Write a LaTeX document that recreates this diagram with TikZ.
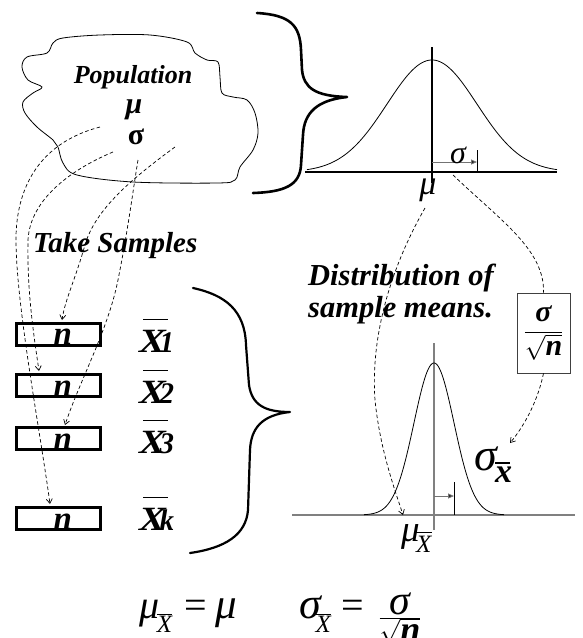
\documentclass[tikz,border=0pt]{standalone}
\usepackage{fontspec}
\setmainfont{Liberation Serif}
\usetikzlibrary{arrows.meta}
\newcommand{\barX}[1]{\scalebox{1.18}[1]{\rlap{\kern0.1em\rule[0.93em]{0.62em}{0.05em}}X\kern-0.16em\scalebox{0.72}[0.88]{#1}}}
\newcommand{\lown}{\raisebox{-3pt}[\height][0pt]{n}}
\begin{document}
\begin{tikzpicture}[x=1pt,y=-1pt,
  bi/.style={font=\fontsize{#1}{#1}\selectfont\bfseries\itshape, inner sep=0pt},
  it/.style={font=\fontsize{#1}{#1}\selectfont\itshape, inner sep=0pt},
  bu/.style={font=\fontsize{#1}{#1}\selectfont\bfseries, inner sep=0pt},
  dsh/.style={line width=0.7pt, dash pattern=on 3.5pt off 2.5pt},
  dar/.style={dsh, -{Straight Barb[length=4.5pt,width=6pt]}},
  bracestyle/.style={line width=#1, line cap=round, line join=round},
  sbox/.style={draw, line width=3pt, minimum width=84pt, minimum height=22pt, inner sep=0pt, font=\fontsize{33}{33}\selectfont\bfseries\itshape},
  xlab/.style={anchor=base west, inner sep=0pt, font=\fontsize{34}{34}\selectfont\bfseries\itshape},
  curve/.style={line width=0.8pt},
  axis/.style={line width=1.1pt},
  gaxis/.style={line width=1.1pt, draw=black!50},
  sigarr/.style={line width=1pt, draw=black!55, -{Triangle[length=6pt,width=5pt,fill=black]}}
]
\useasboundingbox (0,0) rectangle (582,638);

% population blob
\draw[line width=0.8pt] plot[smooth cycle, tension=0.55] coordinates {
 (53,43) (63,38) (100,35) (150,35) (187,42) (195,53) (207,60) (218,62) (220,77) (222,93)
 (233,97) (247,100) (255,113) (258,133) (253,150) (240,167) (235,180) (217,183) (133,182)
 (77,175) (63,163) (58,147) (53,140) (37,127) (25,113) (23,102) (33,93) (42,87) (28,80)
 (22,67) (27,57) (47,53)};
\node[bi=26] (pop) at (133,77) {Population};
\node[bi=30] (pmu) at (134,110) {μ};
\node[bu=30] (psig) at (136,137) {σ};
\coordinate (pA) at (100,127);
\coordinate (pB) at (113,152);
\coordinate (pC) at (175,147);
\coordinate (pD) at (138,160);

% upper brace
\draw[bracestyle=2.6pt] (257,13) .. controls (290,15) and (300,25) .. (301,50) -- (302,70)
  .. controls (304,88) and (315,96) .. (347,97) .. controls (318,100) and (304,112) .. (303,135)
  -- (301,165) .. controls (300,185) and (285,192) .. (253,193);

% top normal curve
\coordinate (tl) at (305,172);
\coordinate (tr) at (557,172);
\coordinate (tvt) at (432,47);
\coordinate (tvb) at (432,183);
\draw[axis] (tl) -- (tr);
\draw[axis] (tvt) -- (tvb);
\draw[curve] plot[domain=307:557, samples=120] (\x, {172-112*exp(-0.5*((\x-432)/45)*((\x-432)/45))});
\coordinate (ts0) at (432,162);
\coordinate (ts1) at (477,162);
\coordinate (tt0) at (477,150);
\coordinate (tt1) at (477,172);
\draw[sigarr] (ts0) -- (ts1);
\draw[line width=0.9pt] (tt0) -- (tt1);
\node[it=32] (tsig) at (458,155) {σ};
\node[it=34] (tmu) at (428,190) {μ};

% take samples
\node[bi=29, anchor=base west] (take) at (33,252) {Take Samples};

% sample boxes
\node[sbox] (b1) at (58.3,334.2) {\hspace*{9pt}\lown};
\node[sbox] (b2) at (58.3,385.8) {\hspace*{9pt}\lown};
\node[sbox] (b3) at (58.3,438.3) {\hspace*{9pt}\lown};
\node[sbox] (bk) at (58.3,518.3) {\hspace*{9pt}\lown};
\node[xlab] (x1) at (139,352) {\barX{1}};
\node[xlab] (x2) at (139,403) {\barX{2}};
\node[xlab] (x3) at (139,453) {\barX{3}};
\node[xlab] (xk) at (139,530) {\barX{k}};

% dashed sampling arrows
\coordinate (tA) at (50,504);
\coordinate (tB) at (39,371);
\coordinate (tC) at (62,320);
\coordinate (tD) at (65,425);
\draw[dar] (pA) .. controls (50,140) and (18,175) .. (16,235) .. controls (15,300) and (40,430) .. (tA);
\draw[dar] (pB) .. controls (70,170) and (30,200) .. (28,240) .. controls (27,290) and (33,330) .. (tB);
\draw[dar] (pC) .. controls (130,180) and (95,210) .. (85,245) .. controls (75,280) and (65,300) .. (tC);
\draw[dar] (pD) .. controls (133,190) and (128,230) .. (118,280) .. controls (108,330) and (80,380) .. (tD);

% lower brace
\draw[bracestyle=2.2pt] (193,288) .. controls (225,295) and (245,310) .. (246,345) -- (249,385)
  .. controls (252,405) and (265,412) .. (290,412) .. controls (262,415) and (251,428) .. (250,450)
  -- (248,510) .. controls (246,535) and (225,548) .. (190,553);

% distribution text
\node[bi=30.5, anchor=base west] (dist1) at (308,285) {Distribution of};
\node[bi=30.5, anchor=base west] (dist2) at (308,317) {sample means.};

% sigma over root n box
\node[draw=black!75, line width=0.8pt, inner sep=0pt, minimum width=53pt, minimum height=80pt, font=\fontsize{30}{30}\selectfont] (fr) at (543.5,333)
  {$\displaystyle\frac{\mbox{\bfseries\itshape σ}}{\sqrt{\mbox{\bfseries\itshape n}}}$};

% lower normal curve
\coordinate (ll) at (292,515);
\coordinate (lr) at (575,515);
\coordinate (lvt) at (434,343);
\coordinate (lvb) at (434,530);
\draw[gaxis] (ll) -- (lr);
\draw[gaxis] (lvt) -- (lvb);
\draw[curve] plot[domain=364:504, samples=150] (\x, {515-152*exp(-0.5*((\x-434)/20)*((\x-434)/20))});
\coordinate (ls0) at (434,496);
\coordinate (ls1) at (454,496);
\coordinate (lt0) at (454,482);
\coordinate (lt1) at (454,515);
\draw[sigarr] (ls0) -- (ls1);
\draw[line width=0.9pt] (lt0) -- (lt1);
\node[anchor=base west, inner sep=0pt, font=\fontsize{46}{46}\selectfont\itshape] (sx) at (474,470)
  {σ\kern-0.04em\raisebox{-0.27em}{\fontsize{34}{34}\selectfont\bfseries\itshape\rlap{\rule[0.55em]{0.45em}{0.05em}}x}};
\node[anchor=base west, inner sep=0pt, font=\fontsize{37}{37}\selectfont\itshape] (mx) at (401,541)
  {μ\kern-0.1em\raisebox{-0.3em}{\fontsize{25}{25}\selectfont\rlap{\rule[0.75em]{0.62em}{0.05em}}X}};

% dashed arrows from top distribution
\coordinate (e0) at (425,208);
\coordinate (e1) at (403,515);
\coordinate (f0) at (453,175);
\coordinate (g1) at (510,443);
\draw[dar] (e0) .. controls (395,260) and (370,330) .. (375,400) .. controls (380,450) and (395,490) .. (e1);
\draw[dsh] (f0) .. controls (500,220) and (545,250) .. (fr.north);
\draw[dar] (fr.south) .. controls (538,400) and (525,425) .. (g1);

% bottom formulas
\node[anchor=base west, inner sep=0pt, font=\fontsize{40}{40}\selectfont\itshape] (f1) at (139,618)
  {μ\kern-0.06em\raisebox{-0.37em}{\fontsize{25}{25}\selectfont\rlap{\rule[0.72em]{0.62em}{0.04em}}X}\kern0.3em\upshape=\kern0.22em{\fontsize{43}{43}\selectfont\itshape μ}};
\node[anchor=base west, inner sep=0pt, font=\fontsize{44}{44}\selectfont\itshape] (f2) at (299,618)
  {σ\kern-0.12em\raisebox{-0.34em}{\fontsize{25}{25}\selectfont\rlap{\rule[0.72em]{0.62em}{0.04em}}X}\kern0.25em{\fontsize{40}{40}\selectfont\upshape=}};
\node[anchor=base, inner sep=0pt, font=\fontsize{36}{36}\selectfont\itshape] (f3) at (400,624)
  {$\frac{\mbox{\fontsize{42}{42}\selectfont σ}}{\mbox{$\sqrt{\mbox{\bfseries\itshape n}}$}}$};
\end{tikzpicture}
\end{document}
